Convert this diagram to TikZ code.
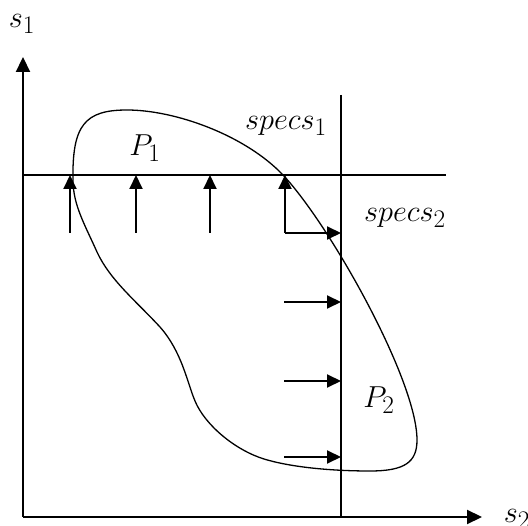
\documentclass[tikz,border=0pt]{standalone}
\usepackage{graphicx}
\usetikzlibrary{arrows.meta}
\newcommand{\biglab}[1]{\scalebox{1.22}{\fontsize{24.88}{28}\selectfont$#1$}}
\begin{document}
\begin{tikzpicture}[x=1pt,y=-1pt,
  axis/.style={line width=2.2pt,-{Triangle[length=15pt,width=14pt]}},
  guide/.style={line width=1.3pt},
  arr/.style={line width=2pt,-{Triangle[length=14pt,width=13pt]}},
  blob/.style={line width=1.3pt},
  lab/.style={inner sep=0pt}]
\useasboundingbox (0,0) rectangle (528,526);
% axes
\coordinate (O) at (23,517);
\coordinate (Ytip) at (23,57);
\coordinate (Xtip) at (482,517);
\draw[axis] (O) -- (Ytip);
\draw[axis] (O) -- (Xtip);
% spec lines
\coordinate (h1) at (23,175);
\coordinate (h2) at (446,175);
\coordinate (v1) at (341,95);
\coordinate (v2) at (341,517);
\draw[guide] (h1) -- (h2);
\draw[guide] (v1) -- (v2);
% blob
\draw[blob] (73,180) .. controls (72,125) and (85,110) .. (127,110)
  .. controls (175,110) and (245,135) .. (283,175)
  .. controls (330,225) and (417,380) .. (417,440)
  .. controls (417,462) and (405,471) .. (370,471)
  .. controls (330,471) and (290,467) .. (264,459)
  .. controls (235,450) and (205,425) .. (195,401)
  .. controls (187,382) and (182,352) .. (160,327)
  .. controls (135,300) and (110,280) .. (97,252)
  .. controls (85,225) and (73,205) .. (73,180) -- cycle;
% up arrows
\coordinate (u1) at (70,233);  \coordinate (u1t) at (70,175);
\coordinate (u2) at (136,233); \coordinate (u2t) at (136,175);
\coordinate (u3) at (210,233); \coordinate (u3t) at (210,175);
\coordinate (u4) at (285,233); \coordinate (u4t) at (285,175);
\draw[arr] (u1) -- (u1t);
\draw[arr] (u2) -- (u2t);
\draw[arr] (u3) -- (u3t);
\draw[arr] (u4) -- (u4t);
% right arrows
\coordinate (r0t) at (341,233);
\coordinate (r1) at (284,302); \coordinate (r1t) at (341,302);
\coordinate (r2) at (284,381); \coordinate (r2t) at (341,381);
\coordinate (r3) at (284,457); \coordinate (r3t) at (341,457);
\draw[arr] (u4) -- (r0t);
\draw[arr] (r1) -- (r1t);
\draw[arr] (r2) -- (r2t);
\draw[arr] (r3) -- (r3t);
% labels
\node[lab] (s1) at (22,24) {\biglab{s_1}};
\node[lab] (s2) at (517,519) {\biglab{s_2}};
\node[lab] (sp1) at (286,126) {\biglab{specs_1}};
\node[lab] (sp2) at (405,218) {\biglab{specs_2}};
\node[lab] (P1) at (145,148) {\biglab{P_1}};
\node[lab] (P2) at (379,400) {\biglab{P_2}};
\end{tikzpicture}
\end{document}
